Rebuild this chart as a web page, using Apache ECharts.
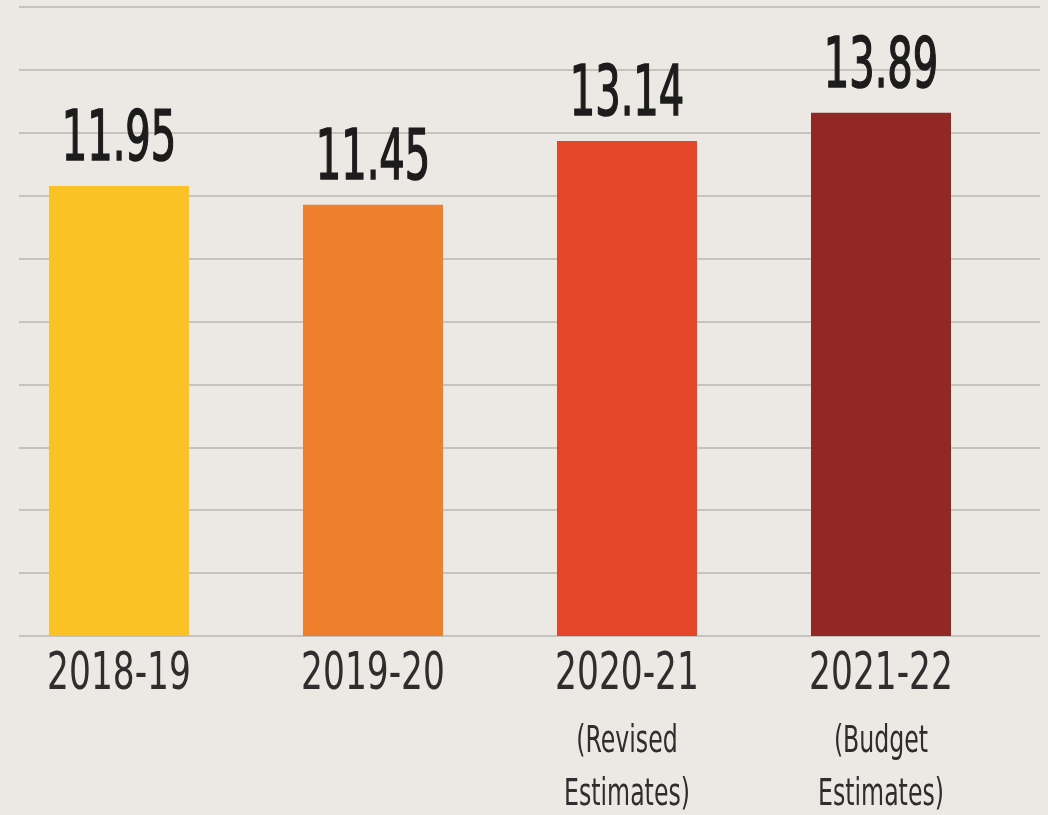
<!DOCTYPE html>
<html>
<head>
<meta charset="utf-8">
<script src="https://cdn.jsdelivr.net/npm/echarts@6/dist/echarts.min.js"></script>
<style>
  html, body { margin: 0; padding: 0; background: #ECE8E4; }
  #chart { width: 1048px; height: 815px; }
</style>
</head>
<body>
<div id="chart"></div>
<script>
// data
const years = ['2018-19', '2019-20', '2020-21', '2021-22']
const notes = [[], [], ['(Revised', 'Estimates)'], ['(Budget', 'Estimates)']]
const values = [11.95, 11.45, 13.14, 13.89]
const barColors = ['#FBC226', '#EE7F2D', '#E54529', '#922823']

const condensed = '"DejaVu Sans Condensed", "DejaVu Sans", sans-serif'

// text squeezed sideways to look like the narrow newspaper face
function squeezed (text, x, y, size, squeeze, color, thicken) {
  return {
    type: 'text',
    x: x,
    y: y,
    scaleX: squeeze,
    style: {
      text: text,
      x: 0,
      y: 0,
      fontFamily: condensed,
      fontSize: size,
      fill: color,
      stroke: thicken ? color : null,
      lineWidth: thicken || 0,
      align: 'center',
      verticalAlign: 'middle'
    }
  }
}

// bar, value on top and the year (plus note) under the axis
function renderBar (params, api) {
  const i = api.value(0)
  const v = api.value(1)
  const top = api.coord([i, v])
  const base = api.coord([i, 0])
  const cx = top[0]
  const children = [
    {
      type: 'rect',
      shape: { x: cx - 70, y: top[1], width: 140, height: base[1] - top[1] },
      style: { fill: barColors[i] }
    },
    squeezed(v.toFixed(2), cx, top[1] - 44, 69, 0.645, '#1c1c1c', 1.6),
    squeezed(years[i], cx, base[1] + 40, 51, 0.75, '#2e2e2e', 0)
  ]
  notes[i].forEach((t, k) => {
    children.push(squeezed(t, cx, base[1] + 106 + k * 53, 37, 0.71, '#2e2e2e', 0))
  })
  return { type: 'group', children: children }
}

let chart = echarts.init(document.getElementById('chart'))
let option = {
  backgroundColor: '#ECE8E4',
  animation: false,
  grid: { left: 19, right: 8, top: 7, bottom: 179 },
  xAxis: {
    type: 'value',
    min: -0.3937,
    max: 3.626,
    show: false
  },
  yAxis: {
    type: 'value',
    min: 0,
    max: 16.7,
    interval: 1.67,
    axisLine: { show: false },
    axisTick: { show: false },
    axisLabel: { show: false },
    splitLine: { lineStyle: { color: '#C6C2BE', width: 2 } }
  },
  series: [
    {
      type: 'custom',
      renderItem: renderBar,
      clip: false,
      encode: { x: 0, y: 1 },
      data: values.map((v, i) => [i, v])
    }
  ]
}
chart.setOption(option)
</script>
</body>
</html>
